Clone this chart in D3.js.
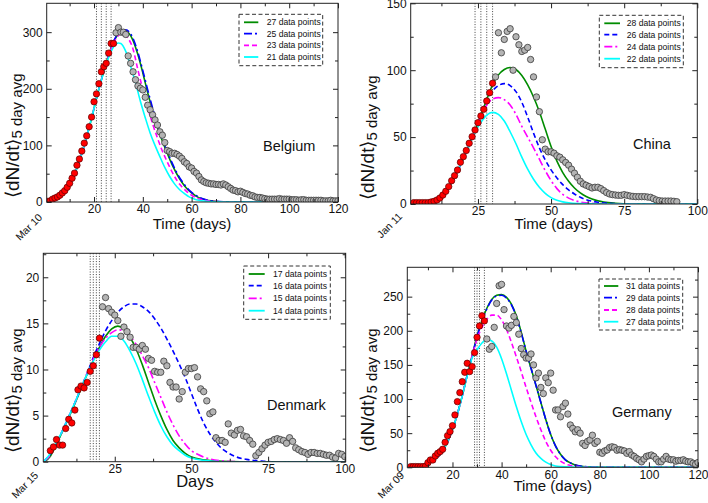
<!DOCTYPE html>
<html><head><meta charset="utf-8">
<script src="https://cdn.jsdelivr.net/npm/d3@7"></script>
<style>
body{margin:0;background:#fff}
svg{display:block}
text{font-family:"Liberation Sans",Arial,Helvetica,sans-serif;fill:#111}
</style>
</head><body>
<svg id="chart" width="708" height="503"></svg>
<script>
// ================= DATA =================
// Belgium
const belgiumRedStart = 1;
const belgiumRed = [1,2,5,7,9,12,16,20,26,33,42,51,65,76,90,104,117,133,150,177,191,209,230,239,245,263,280,280];
const belgiumGrayStart = 29;
const belgiumGray = [299,308,300,300,296,258,245,230,216,205,201,198,185,171,163,154,145,136,124,118,105,91,89,86,86,84,81,77,71,68,62,60,54,51,45,39,36,34,33,32,32,31,31,30,32,30,27,24,21,20,18,19,17,15,14,12,11,9,8,8,7,6,5,5,5,5,5,6,5,5,5,5,4,4,4,3,4,4,3,3,3,3,3,3,3,2,2,2,3,2,2,2];
const belgiumGreen = [[1,2],[4,6],[7,15],[10,32],[13,60],[16,100],[19,148],[22,200],[25,245],[27,272],[29,291],[31,301],[32,303],[33,302],[35,294],[36,285],[38,260],[40,228],[42,193],[44,161],[46,132],[48,108],[50,86],[52,66],[54,49],[56,35],[58,24],[60,16],[62,10],[64,6],[66,3.5],[68,2],[70,1],[74,0.3],[80,0],[120,0]];
const belgiumBlue = [[1,2],[4,6],[7,15],[10,32],[13,60],[16,100],[19,148],[22,200],[25,245],[27,272],[29,292],[31,302],[32,304],[33,304],[35,297],[36,289],[38,264],[40,232],[42,198],[44,166],[46,136],[48,111],[50,89],[52,69],[54,51],[56,37],[58,25.5],[60,17],[62,11],[64,6.5],[66,3.8],[68,2.1],[70,1.1],[74,0.3],[80,0],[120,0]];
const belgiumMagenta = [[1,2],[4,6],[7,15],[10,32],[13,60],[16,100],[19,148],[22,200],[25,245],[27,270],[29,288],[30,294],[31,297],[32,297],[34,289],[36,270],[38,233],[40,199],[42,167],[44,138],[46,113],[48,90],[50,71],[52,53],[54,38],[56,27],[58,18.5],[60,12],[62,7.5],[64,4.5],[66,2.5],[68,1.4],[70,0.7],[74,0.2],[80,0],[120,0]];
const belgiumCyan = [[1,2],[4,6],[7,15],[10,32],[13,60],[16,100],[19,148],[22,200],[25,243],[27,266],[29,279],[30,281],[31,280],[33,266],[35,240],[37,211],[39,178],[41,149],[43,122],[45,100],[47,80],[49,61],[51,45],[53,32],[55,22],[57,15],[59,9],[61,5.5],[63,3.2],[65,1.8],[67,0.9],[71,0.3],[77,0],[120,0]];
const belgiumLegend = ["27 data points","25 data points","23 data points","21 data points"];
const belgiumCutoffs = [21,23,25,27];

// China
const chinaRedStart = 3;
const chinaRed = [1,1,1,1,1,1,1.5,2,3,4.5,6.7,9.5,13,17.4,21.2,25.4,31.2,35.4,40,45.4,50.3,55.3,60.8,65.8,70.8,77,83.2,90.2];
const chinaGrayStart = 31;
const chinaGray = [95,128,113,123,129,131,100,125,119,114,115,117,108,95,80,69,48,41,39,39,38,36,35,33,31,29,26,23,20,17,15,14,13,12,12.5,12.5,11.5,10,8.5,7.5,7,6.7,6.5,6.5,7,6.5,6,5.7,5.5,5.5,5.5,5.5,5.2,5,4,3,2.5,2.2,2.2,2.2,2.2,2,1.7];
const chinaGreen = [[2,1],[5,1.1],[8,1.4],[10,2.3],[12,4.5],[14,9],[16,16],[18,24.5],[20,34],[22,44],[24,54.5],[26,66],[28,78],[30,89],[32,96.5],[34,100.5],[36,102],[38,100.5],[40,96],[42,89],[44,80],[46,69],[48,56],[50,43],[52,32],[54,23.5],[56,17],[58,12],[60,8.3],[62,5.6],[64,3.7],[66,2.4],[68,1.5],[72,0.6],[78,0.1],[85,0],[100,0]];
const chinaBlue = [[2,1],[5,1.1],[8,1.4],[10,2.3],[12,4.5],[14,9],[16,16],[18,24.5],[20,34],[22,44],[24,54.5],[26,66],[28,77],[30,84.5],[32,88.5],[34,90],[36,88.5],[38,84],[40,76],[42,65],[44,53],[46,42],[48,33],[50,25.5],[52,19.5],[54,14.5],[56,10.5],[58,7.5],[60,5],[62,3.3],[64,2.1],[66,1.3],[70,0.5],[76,0.1],[82,0],[100,0]];
const chinaMagenta = [[2,1],[5,1.1],[8,1.4],[10,2.3],[12,4.5],[14,9],[16,16],[18,24.5],[20,34],[22,44],[24,54.5],[26,65.5],[28,74],[30,78.5],[32,79.5],[34,78],[36,74],[38,67],[40,58],[42,50],[44,42],[46,33.5],[48,25],[50,17.5],[52,11.5],[54,7.2],[56,4.4],[58,2.6],[60,1.5],[62,0.9],[66,0.3],[72,0],[100,0]];
const chinaCyan = [[2,1],[5,1.1],[8,1.4],[10,2.3],[12,4.5],[14,9],[16,16],[18,24.5],[20,34],[22,44],[24,53.5],[26,61],[28,66.5],[30,68.5],[32,67],[34,62],[36,54],[38,45],[40,35],[42,26],[44,18.5],[46,12.5],[48,8],[50,4.8],[52,2.8],[54,1.6],[56,0.9],[60,0.3],[66,0],[100,0]];
const chinaLegend = ["28 data points","26 data points","24 data points","22 data points"];
const chinaCutoffs = [24,26,28,30];

// Denmark
const denmarkRedStart = 4;
const denmarkRed = [1.2,1.6,2.4,1.8,1.8,3.6,4.6,4.2,5.6,7.8,8.2,8.0,8.6,9.8,10.4,11.6,13.4];
const denmarkGrayStart = 21;
const denmarkGray = [16.8,17.8,16.6,16.2,15.9,15.3,13.6,14.6,14.1,13.5,12.4,12.4,12.2,12.6,12.2,11.2,11.0,9.8,9.7,9.7,10.9,10.4,8.6,8.1,8.1,6.8,7.6,9.7,10.1,10.1,10.2,9.2,7.9,7.6,6.6,5.2,5.4,2.6,2.3,2.3,2.1,4.1,3.1,2.9,3.4,3.5,2.8,2.7,2.3,1.9,0.65,1.0,1.4,1.8,2.1,2.2,2.4,2.5,2.4,2.3,2.0,2.6,2.2,1.5,1.3,1.1,1.0,0.8,1.0,1.0,0.9,0.9,0.8,0.7,0.7,0.5,0.4,0.9,0.8,0.55];
const denmarkGreen = [[2,0],[4,0.6],[6,1.9],[8,3.3],[10,4.8],[12,6.3],[14,7.9],[16,9.5],[18,11],[20,12.4],[22,13.6],[24,14.4],[26,14.7],[28,14.4],[30,13.5],[32,12.2],[34,10.5],[36,8.6],[38,6.7],[40,5],[42,3.5],[44,2.3],[46,1.5],[48,0.9],[50,0.5],[54,0.2],[60,0.05],[66,0],[100,0]];
const denmarkBlue = [[2,0.1],[4,0.8],[6,2],[8,3.4],[10,4.9],[12,6.4],[14,8],[16,9.6],[18,11.3],[20,12.8],[22,14.2],[24,15.3],[26,16.2],[28,16.8],[30,17.1],[32,17.1],[34,16.8],[36,16.3],[38,15.5],[40,14.5],[42,13.3],[44,12],[46,10.6],[48,9.1],[50,7.4],[52,5.7],[54,4.2],[56,3],[58,2.1],[60,1.4],[62,0.95],[64,0.6],[68,0.25],[72,0.1],[76,0],[100,0]];
const denmarkMagenta = [[2,0.05],[4,0.7],[6,2],[8,3.4],[10,4.9],[12,6.4],[14,8],[16,9.6],[18,11.1],[20,12.4],[22,13.4],[24,14],[26,14.3],[28,14.2],[30,13.6],[32,12.7],[34,11.5],[36,10.2],[38,8.6],[40,7],[42,5.4],[44,4],[46,2.8],[48,1.9],[50,1.2],[52,0.8],[56,0.3],[60,0.1],[66,0],[100,0]];
const denmarkCyan = [[2,0.05],[4,0.9],[6,2.1],[8,3.4],[10,4.9],[12,6.4],[14,8],[16,9.5],[18,10.9],[20,12.1],[22,13],[24,13.6],[26,13.6],[28,13.1],[30,12],[32,10.6],[34,8.9],[36,7.1],[38,5.4],[40,3.9],[42,2.7],[44,1.8],[46,1.2],[48,0.7],[50,0.4],[54,0.15],[60,0],[100,0]];
const denmarkLegend = ["17 data points","16 data points","15 data points","14 data points"];
const denmarkCutoffs = [17,18,19,20];

// Germany
const germanyRedStart = 3;
const germanyRed = [1,1,1,1,1,1,1.5,6.8,10.7,10.7,16.6,20.5,23,26.4,36.6,46.4,52.3,61,76.7,96.2,109.4,125.5,139.2,152.4,140.2,147.5,168,190.5,207,222,214.5];
const germanyGrayStart = 34;
const germanyGray = [188,173,177,205,240,266,268,231,207,204,208,221,212,195,174,165,160,160,166,150,131,138,117,108,131,124,138,113,84,84,74,89,94,78,62,57,52,55,50,35,32,38,40,47,35,38,22,20.5,24,25.4,29,30,29,25,26,25,24,20.5,23,18,16,13,11,8,12,16,17,18,16,12,8,8,12,16,12,11,11,9,10,10,11,9,8,8,6,4.4,7];
const germanyGreen = [[2,0.3],[5,1],[8,3],[11,7],[14,15],[17,30],[20,55],[22,78],[24,105],[26,135],[28,163],[30,192],[32,215],[34,233],[36,246],[38,252],[40,253],[42,249],[44,239],[46,222],[48,198],[50,170],[52,145],[54,120],[56,95],[58,70],[60,48],[62,31],[64,19],[66,11],[68,6.5],[70,3.5],[72,1.8],[75,0.7],[80,0.1],[85,0],[120,0]];
const germanyBlue = [[2,0.3],[5,1],[8,3],[11,7],[14,15],[17,30],[20,55],[22,78],[24,105],[26,135],[28,163],[30,191],[32,214],[34,232],[36,245],[38,251],[40,252],[42,248],[44,238],[46,221],[48,197],[50,170],[52,145],[54,120],[56,95],[58,70],[60,48],[62,31],[64,19],[66,11],[68,6.5],[70,3.5],[72,1.8],[75,0.7],[80,0.1],[85,0],[120,0]];
const germanyMagenta = [[2,0.3],[5,1],[8,3],[11,7],[14,15],[17,30],[20,55],[22,78],[24,105],[26,135],[28,163],[30,188],[32,205],[34,217],[36,223],[38,223],[40,216],[42,202],[44,183],[46,162],[48,140],[50,117],[52,95],[54,74],[56,55],[58,38],[60,25],[62,15.5],[64,9],[66,5],[68,2.7],[70,1.4],[74,0.4],[80,0],[120,0]];
const germanyCyan = [[2,0.3],[5,1],[8,3],[11,7],[14,15],[17,30],[20,55],[22,78],[24,105],[26,134],[28,160],[30,172],[32,182],[34,187],[36,185],[38,176],[40,159],[42,137],[44,113],[46,89],[48,67],[50,48],[52,33],[54,21],[56,13],[58,7.5],[60,4],[62,2],[64,1],[68,0.2],[72,0],[120,0]];
const germanyLegend = ["31 data points","29 data points","28 data points","27 data points"];
const germanyCutoffs = [29,30,31,33];

// Tick values
const belgiumXTicks = [20,40,60,80,100,120], belgiumYTicks = [0,100,200,300];
const chinaXTicks = [25,50,75,100], chinaYTicks = [0,50,100,150];
const denmarkXTicks = [25,50,75,100], denmarkYTicks = [0,5,10,15,20];
const germanyXTicks = [20,40,60,80,100,120], germanyYTicks = [0,50,100,150,200,250];

// ================= DRAW =================
const svg = d3.select("#chart");
const GREEN = "#008c00", BLUE = "#0000ff", MAG = "#ff00ff", CYAN = "#00ffff";
const SOLID = null, DASH = "5,3", LONGSHORT = "8,3,2,3";

const panels = [
  {id:"be", name:"Belgium", l:46.7, r:338, t:3.3, b:202, xd:[0.6,120], yd:[0,351],
   xt:belgiumXTicks, xm:[10,30,50,70,90,110], yt:belgiumYTicks, ym:[50,150,250],
   red:belgiumRed, redStart:belgiumRedStart, gray:belgiumGray, grayStart:belgiumGrayStart,
   curves:[[belgiumGreen,GREEN,SOLID],[belgiumBlue,BLUE,LONGSHORT],[belgiumMagenta,MAG,DASH],[belgiumCyan,CYAN,SOLID]],
   legend:belgiumLegend, cut:belgiumCutoffs, leg:{x1:239,x2:322.7,y1:14.3,y2:65.7,ys:[22.3,33.7,45.3,57],lx1:244,lx2:258.3,tx:266.7},
   xtitle:"Time (days)", xtx:192, xty:229, xts:15, country:[263,151], date:"Mar 10", dx:43, dy:218,
   ylab:[18.5,198]},
  {id:"cn", name:"China", l:410.7, r:697.3, t:3.3, b:204, xd:[2,100], yd:[0,150],
   xt:chinaXTicks, xm:[12.5,37.5,62.5,87.5], yt:chinaYTicks, ym:[25,75,125],
   red:chinaRed, redStart:chinaRedStart, gray:chinaGray, grayStart:chinaGrayStart,
   curves:[[chinaGreen,GREEN,SOLID],[chinaBlue,BLUE,DASH],[chinaMagenta,MAG,LONGSHORT],[chinaCyan,CYAN,SOLID]],
   legend:chinaLegend, cut:chinaCutoffs, leg:{x1:599.3,x2:683.3,y1:15.3,y2:67.7,ys:[23.3,34.7,46.7,58.7],lx1:604.3,lx2:620,tx:626.7},
   xtitle:"Time (days)", xtx:553.7, xty:229, xts:15, country:[633,149], date:"Jan 11", dx:403, dy:217,
   ylab:[374,200]},
  {id:"dk", name:"Denmark", l:43.3, r:345.7, t:253.3, b:461.7, xd:[1.7,100.3], yd:[0,22.6],
   xt:denmarkXTicks, xm:[12.5,37.5,62.5,87.5], yt:denmarkYTicks, ym:[2.5,7.5,12.5,17.5,22.5],
   red:denmarkRed, redStart:denmarkRedStart, gray:denmarkGray, grayStart:denmarkGrayStart,
   curves:[[denmarkGreen,GREEN,SOLID],[denmarkBlue,BLUE,DASH],[denmarkMagenta,MAG,LONGSHORT],[denmarkCyan,CYAN,SOLID]],
   legend:denmarkLegend, cut:denmarkCutoffs, leg:{x1:243.7,x2:330.3,y1:266,y2:319.3,ys:[274,285.7,298.3,310.7],lx1:248.7,lx2:264.7,tx:273},
   xtitle:"Days", xtx:195, xty:486.5, xts:16.5, country:[267,409.7], date:"Mar 15", dx:39, dy:476,
   ylab:[19,453]},
  {id:"de", name:"Germany", l:407.3, r:698, t:267.3, b:467.3, xd:[1.6,120], yd:[0,293],
   xt:germanyXTicks, xm:[10,30,50,70,90,110], yt:germanyYTicks, ym:[25,75,125,175,225,275],
   red:germanyRed, redStart:germanyRedStart, gray:germanyGray, grayStart:germanyGrayStart,
   curves:[[germanyGreen,GREEN,SOLID],[germanyBlue,BLUE,LONGSHORT],[germanyMagenta,MAG,DASH],[germanyCyan,CYAN,SOLID]],
   legend:germanyLegend, cut:germanyCutoffs, leg:{x1:599,x2:682.7,y1:279,y2:330,ys:[286,297.7,310,321.7],lx1:604,lx2:618.3,tx:626},
   xtitle:"Time (days)", xtx:552.7, xty:491, xts:15, country:[612,417], date:"Mar 09", dx:405, dy:476,
   ylab:[374,453]}
];

panels.forEach(p => {
  const g = svg.append("g");
  const x = d3.scaleLinear().domain(p.xd).range([p.l, p.r]);
  const y = d3.scaleLinear().domain(p.yd).range([p.b, p.t]);
  const clip = "clip-" + p.id;
  svg.append("clipPath").attr("id", clip).append("rect")
    .attr("x", p.l).attr("y", p.t).attr("width", p.r - p.l).attr("height", p.b - p.t);

  // vertical cutoff lines
  g.selectAll(".cut").data(p.cut).join("line")
    .attr("x1", d => x(d)).attr("x2", d => x(d)).attr("y1", p.t).attr("y2", p.b)
    .attr("stroke", "#444").attr("stroke-width", 1).attr("stroke-dasharray", "1,1.6");

  // fitted curves
  const line = d3.line().x(d => x(d[0])).y(d => y(d[1])).curve(d3.curveMonotoneX);
  const cg = g.append("g").attr("clip-path", `url(#${clip})`);
  p.curves.forEach(([data, col, dash]) => {
    cg.append("path").attr("d", line(data)).attr("fill", "none")
      .attr("stroke", col).attr("stroke-width", 1.6)
      .attr("stroke-dasharray", dash);
  });

  // data points
  const grayPts = p.gray.map((v, i) => [p.grayStart + i, v]);
  const redPts = p.red.map((v, i) => [p.redStart + i, v]);
  cg.selectAll(".gp").data(grayPts).join("circle")
    .attr("cx", d => x(d[0])).attr("cy", d => y(d[1])).attr("r", 3.2)
    .attr("fill", "#b4b4b4").attr("stroke", "#3a3a3a").attr("stroke-width", 0.8);
  cg.selectAll(".rp").data(redPts).join("circle")
    .attr("cx", d => x(d[0])).attr("cy", d => y(d[1])).attr("r", 3.2)
    .attr("fill", "#ff0000").attr("stroke", "#5a0000").attr("stroke-width", 0.7);

  // axes: ticks inward on all sides
  const mk = (axis, pos, vals, size, labels, pad) => {
    const a = g.append("g").attr("transform", pos)
      .call(axis.tickValues(vals).tickSize(-size).tickPadding(labels ? pad : 0)
        .tickFormat(labels ? d3.format("d") : () => ""));
    a.select(".domain").remove();
    a.selectAll(".tick line").attr("stroke", "#222").attr("stroke-width", 1);
    a.selectAll("text").attr("font-size", 12).attr("font-family", '"Liberation Sans",Arial,sans-serif').attr("fill", "#111");
    return a;
  };
  mk(d3.axisBottom(x), `translate(0,${p.b})`, p.xt, 5, true, 3).selectAll("text").attr("dy", "0.7em");
  mk(d3.axisBottom(x), `translate(0,${p.b})`, p.xm, 3, false);
  mk(d3.axisTop(x), `translate(0,${p.t})`, p.xt, 5, false);
  mk(d3.axisTop(x), `translate(0,${p.t})`, p.xm, 3, false);
  mk(d3.axisLeft(y), `translate(${p.l},0)`, p.yt, 5, true, 4);
  mk(d3.axisLeft(y), `translate(${p.l},0)`, p.ym.filter(v => v <= p.yd[1]), 3, false);
  mk(d3.axisRight(y), `translate(${p.r},0)`, p.yt, 5, false);
  mk(d3.axisRight(y), `translate(${p.r},0)`, p.ym.filter(v => v <= p.yd[1]), 3, false);

  // frame
  g.append("rect").attr("x", p.l).attr("y", p.t).attr("width", p.r - p.l).attr("height", p.b - p.t)
    .attr("fill", "none").attr("stroke", "#222").attr("stroke-width", 1);

  // legend
  const L = p.leg;
  g.append("rect").attr("x", L.x1).attr("y", L.y1).attr("width", L.x2 - L.x1).attr("height", L.y2 - L.y1)
    .attr("fill", "#fff").attr("stroke", "#333").attr("stroke-width", 1).attr("stroke-dasharray", "4,2.5");
  p.curves.forEach(([data, col, dash], i) => {
    g.append("line").attr("x1", L.lx1).attr("x2", L.lx2).attr("y1", L.ys[i]).attr("y2", L.ys[i])
      .attr("stroke", col).attr("stroke-width", 1.8).attr("stroke-dasharray", dash);
    g.append("text").attr("x", L.tx).attr("y", L.ys[i] + 3).attr("font-size", 8.6).text(p.legend[i]);
  });

  // titles
  g.append("text").attr("x", p.xtx).attr("y", p.xty).attr("text-anchor", "middle")
    .attr("font-size", p.xts).text(p.xtitle);
  g.append("text").attr("x", p.country[0]).attr("y", p.country[1]).attr("font-size", 14.5).text(p.name);
  g.append("text").attr("transform", `translate(${p.dx},${p.dy}) rotate(-45)`)
    .attr("text-anchor", "end").attr("font-size", 10.5).text(p.date);
  const yl = g.append("text").attr("transform", `translate(${p.ylab[0]},${p.ylab[1]}) rotate(-90)`)
    .attr("text-anchor", "start");
  yl.append("tspan").attr("font-size", 19).text("⟨dN/dt⟩");
  yl.append("tspan").attr("font-size", 15).attr("dy", 3).text("5 day avg");
});
</script>
</body></html>
